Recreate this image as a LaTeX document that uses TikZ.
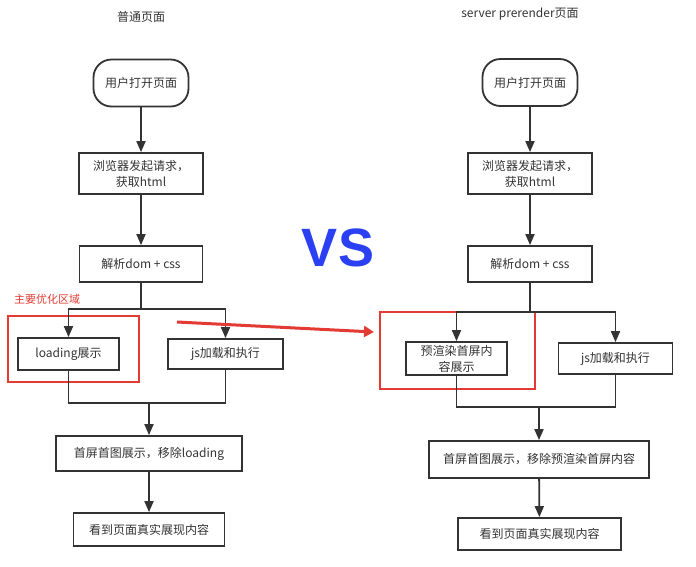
\documentclass[tikz,border=0pt]{standalone}
\usepackage{fontspec}
\setmainfont{Noto Sans CJK SC}
\newfontfamily\vsfont{Liberation Sans}
\usetikzlibrary{arrows.meta}
\definecolor{ink}{HTML}{333333}
\definecolor{redann}{HTML}{E33B33}
\definecolor{vsblue}{HTML}{2B40F2}
\begin{document}
\begin{tikzpicture}[x=1pt,y=1pt,
  box/.style={draw=ink,line width=1.8pt,text=ink,inner sep=0pt,align=center,font=\fontsize{12}{16}\selectfont},
  rbox/.style={box,rounded corners=18pt},
  arr/.style={draw=ink,line width=1.8pt,-{Triangle[length=11pt,width=9pt]}},
  ln/.style={draw=ink,line width=1.8pt},
  redframe/.style={draw=redann,line width=1.6pt},
  title/.style={text=ink,font=\fontsize{12}{14}\selectfont,inner sep=0pt}]
\useasboundingbox (0,0) rectangle (696,-566);

% red frames (behind)
\draw[redframe] (8,-316) rectangle (139,-382);
\draw[redframe] (380,-312) rectangle (535,-389);

% titles
\node[title] (t1) at (141,-17) {普通页面};
\node[title] (t2) at (520,-14) {server prerender页面};
\node[text=redann,font=\fontsize{11}{13}\selectfont,inner sep=0pt,anchor=west] (lab) at (14,-299) {主要优化区域};
\node[text=vsblue,font=\vsfont\bfseries\fontsize{54}{60}\selectfont,inner sep=0pt] (vs) at (338,-248) {VS};

% left column
\node[rbox,minimum width=95pt,minimum height=47pt] (u1) at (141,-83) {用户打开页面};
\node[box,minimum width=124pt,minimum height=41pt] (b1) at (141,-173.5) {浏览器发起请求，\\获取html};
\node[box,minimum width=123pt,minimum height=36pt] (p1) at (141,-264) {解析dom + css};
\node[box,minimum width=101pt,minimum height=32pt] (ld) at (68.5,-354) {loading展示};
\node[box,minimum width=115pt,minimum height=30pt] (js1) at (225.5,-354) {js加载和执行};
\node[box,minimum width=186pt,minimum height=35pt] (f1) at (149,-453.5) {首屏首图展示，移除loading};
\node[box,minimum width=151pt,minimum height=33pt] (v1) at (149,-529.5) {看到页面真实展现内容};

\coordinate (s1) at (141,-309);
\coordinate (j1) at (149,-403);
\draw[arr] (u1) -- (b1);
\draw[arr] (b1) -- (p1);
\draw[ln] (p1.south) -- (s1);
\draw[arr] (s1) -| (ld.north);
\draw[arr] (s1) -| (js1.north);
\draw[ln] (ld.south) |- (j1);
\draw[ln] (js1.south) |- (j1);
\draw[arr] (j1) -- (f1.north);
\draw[arr] (f1) -- (v1);

% right column
\node[rbox,minimum width=95pt,minimum height=47pt] (u2) at (530,-82.5) {用户打开页面};
\node[box,minimum width=124pt,minimum height=41pt] (b2) at (530,-173.5) {浏览器发起请求，\\获取html};
\node[box,minimum width=124pt,minimum height=36pt] (p2) at (530,-264) {解析dom + css};
\node[box,minimum width=101pt,minimum height=33pt] (pr) at (456.5,-358.5) {预渲染首屏内\\容展示};
\node[box,minimum width=114pt,minimum height=31pt] (js2) at (615.5,-358.5) {js加载和执行};
\node[box,minimum width=220pt,minimum height=37pt] (f2) at (539,-459.5) {首屏首图展示，移除预渲染首屏内容};
\node[box,minimum width=163pt,minimum height=32pt] (v2) at (539.5,-534) {看到页面真实展现内容};

\coordinate (s2) at (530,-312);
\coordinate (j2) at (539,-407);
\draw[arr] (u2) -- (b2);
\draw[arr] (b2) -- (p2);
\draw[ln] (p2.south) -- (s2);
\draw[arr] (s2) -| (pr.north);
\draw[arr] (s2) -| (js2.north);
\draw[ln] (pr.south) |- (j2);
\draw[ln] (js2.south) |- (j2);
\draw[arr] (j2) -- (f2.north);
\draw[arr] (f2) -- (v2);

% red annotation arrow
\coordinate (ra) at (177,-322);
\coordinate (rb) at (374,-332);
\draw[draw=redann,line width=3pt,-{Triangle[length=10pt,width=11pt]}] (ra) -- (rb);
\end{tikzpicture}
\end{document}
